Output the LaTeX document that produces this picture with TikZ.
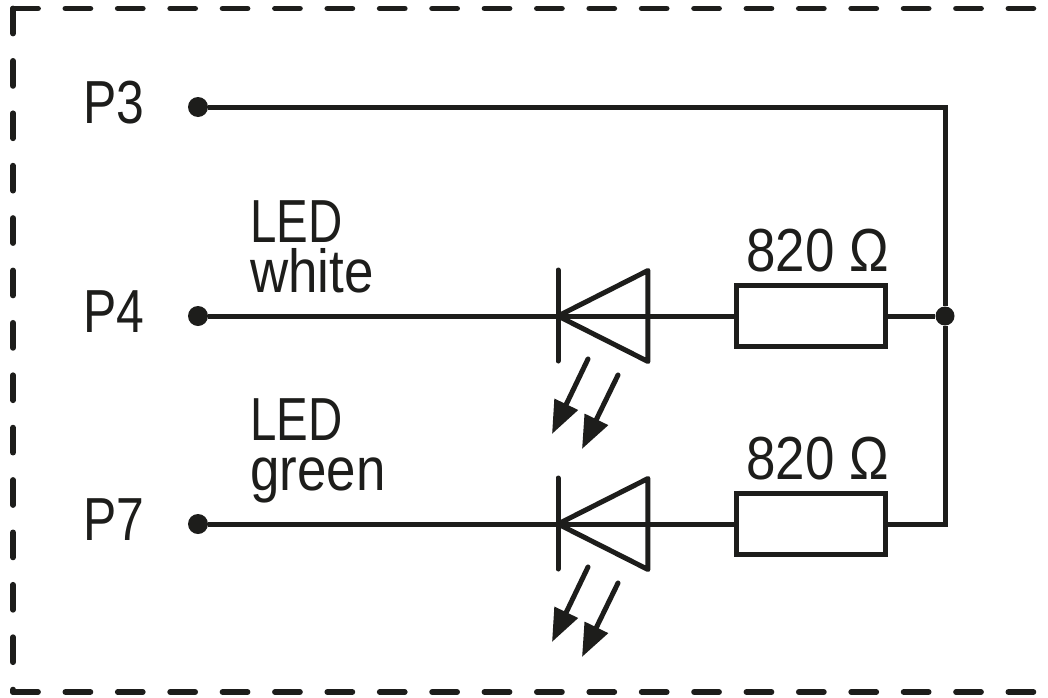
\documentclass[tikz,border=0pt]{standalone}
\usepackage{fontspec}
\usepackage{xcolor}
\setmainfont{Liberation Sans}
\newfontfamily\condfont[FakeStretch=0.87]{Liberation Sans}
\newfontfamily\narrowfont[FakeStretch=0.78]{Liberation Sans}
\newfontfamily\pinfont[FakeStretch=0.82]{Liberation Sans}
\usetikzlibrary{shapes.geometric, arrows.meta, positioning}
\definecolor{inkblack}{HTML}{1D1D1B}

\begin{document}
\begin{tikzpicture}[x=0.02cm, y=-0.02cm]
    \tikzstyle{wire} = [line width=0.1cm, draw=inkblack, line join=miter]
    \tikzstyle{frame} = [line width=0.115cm, draw=inkblack, line cap=round, dash pattern=on 0.5cm off 0.548cm]
    \tikzstyle{pin} = [circle, fill=inkblack, inner sep=0pt, minimum size=0.4cm]
    \tikzstyle{junction} = [circle, fill=inkblack, inner sep=0pt, minimum size=0.38cm]
    \tikzstyle{resistor} = [rectangle, draw=inkblack, line width=0.1cm, inner sep=0pt, minimum width=2.98cm, minimum height=1.22cm]
    \tikzstyle{diode} = [isosceles triangle, isosceles triangle stretches=true, shape border rotate=180, draw=inkblack, line width=0.1cm, line join=round, inner sep=0pt, outer sep=0pt, minimum width=1.82cm, minimum height=1.8cm, anchor=apex]
    \tikzstyle{label} = [inner sep=0pt, text=inkblack, font=\condfont\fontsize{34.6}{28.4}\selectfont]
    \tikzstyle{pinlabel} = [inner sep=0pt, text=inkblack, anchor=base west, font=\pinfont\fontsize{34.6}{28.4}\selectfont]
    \tikzstyle{light} = [line width=0.1cm, draw=inkblack, line cap=round, -{Triangle[length=0.66cm, width=0.5cm]}]

    \useasboundingbox (0,0) rectangle (1048,697);

    % frame, open on the right
    \coordinate (frametopright) at (1048,8.5);
    \coordinate (framecorner) at (13,8.5);
    \coordinate (framebottom) at (13,692);
    \coordinate (framebottomright) at (1048,692);
    \draw[frame] (framecorner) -- (frametopright);
    \draw[frame] (framecorner) -- (framebottom);
    \draw[frame] (framebottom) -- (framebottomright);

    % pins
    \node[pin] (pinthree) at (198,107) {};
    \node[pin] (pinfour) at (198,316) {};
    \node[pin] (pinseven) at (198,524) {};
    \node[pinlabel] (labelthree) at (83,123) {P3};
    \node[pinlabel] (labelfour) at (83,332) {P4};
    \node[pinlabel] (labelseven) at (83,540) {P7};

    % parts
    \node[diode] (diodewhite) at (558,316) {};
    \node[diode] (diodegreen) at (558,524) {};
    \node[resistor] (reswhite) at (811,316) {};
    \node[resistor] (resgreen) at (811,524) {};
    \node[junction] (joint) at (945,316) {};
    \coordinate (bustop) at (945,107);
    \coordinate (busbottom) at (945,524);

    \node[label, anchor=base west] (valuewhite) at (746,271) {820 Ω};
    \node[label, anchor=base west] (valuegreen) at (746,479) {820 Ω};
    \node[label, anchor=base west, align=left] (namewhite) at (250,292) {{\narrowfont LED}\\white};
    \node[label, anchor=base west, align=left] (namegreen) at (250,490) {{\narrowfont LED}\\green};

    % wires
    \draw[wire] (pinthree) -- (bustop) -- (joint) -- (busbottom) -- (resgreen);
    \draw[wire] (pinfour) -- (reswhite) -- (joint);
    \draw[wire] (pinseven) -- (resgreen);

    % cathode bars
    \coordinate (barwhitetop) at (558,270);
    \coordinate (barwhitebottom) at (558,361);
    \coordinate (bargreentop) at (558,478);
    \coordinate (bargreenbottom) at (558,569);
    \draw[wire, line cap=round] (barwhitetop) -- (barwhitebottom);
    \draw[wire, line cap=round] (bargreentop) -- (bargreenbottom);

    % light arrows
    \coordinate (rayonestart) at (588,359);
    \coordinate (rayoneend) at (552,434);
    \coordinate (raytwostart) at (618,375);
    \coordinate (raytwoend) at (582,449);
    \coordinate (raythreestart) at (588,567);
    \coordinate (raythreeend) at (552,642);
    \coordinate (rayfourstart) at (618,583);
    \coordinate (rayfourend) at (582,657);
    \draw[light] (rayonestart) -- (rayoneend);
    \draw[light] (raytwostart) -- (raytwoend);
    \draw[light] (raythreestart) -- (raythreeend);
    \draw[light] (rayfourstart) -- (rayfourend);
\end{tikzpicture}
\end{document}
